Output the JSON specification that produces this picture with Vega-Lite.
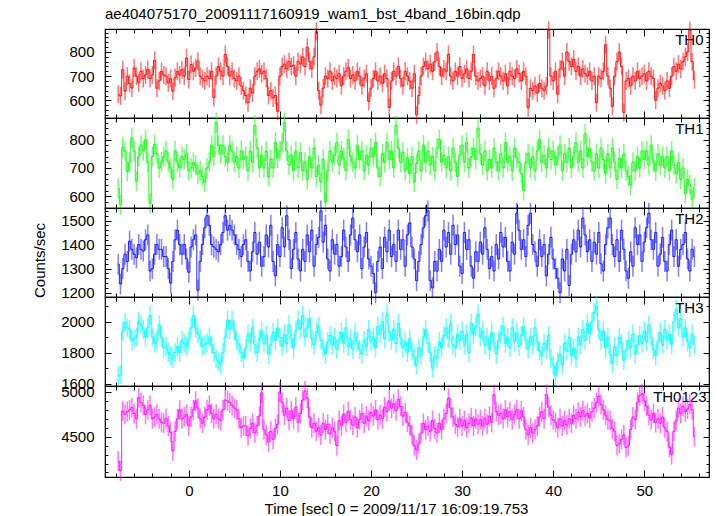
{
"$schema": "https://vega.github.io/schema/vega-lite/v6.json",
"padding": {"left": 32, "top": 6, "right": 6, "bottom": 2},
"background": "white",
"title": {"text": "ae404075170_20091117160919_wam1_bst_4band_16bin.qdp", "anchor": "start", "frame": "group", "fontSize": 15, "font": "Liberation Sans", "fontWeight": "normal", "color": "#000", "offset": -1},
"data": {"values": [
{"t":-7.75,"th0":625,"th1":628,"th2":1318,"th3":1650,"th0123":4229},
{"t":-7.5,"th0":618,"th1":570,"th2":1236,"th3":1660,"th0123":4117},
{"t":-7.25,"th0":727,"th1":772,"th2":1300,"th3":1940,"th0123":4788},
{"t":-7,"th0":638,"th1":760,"th2":1360,"th3":1994,"th0123":4750},
{"t":-6.75,"th0":700,"th1":688,"th2":1330,"th3":1960,"th0123":4780},
{"t":-6.5,"th0":670,"th1":720,"th2":1414,"th3":1950,"th0123":4800},
{"t":-6.25,"th0":651,"th1":806,"th2":1380,"th3":1875,"th0123":4825},
{"t":-6,"th0":734,"th1":760,"th2":1360,"th3":1890,"th0123":4760},
{"t":-5.75,"th0":700,"th1":653,"th2":1345,"th3":1900,"th0123":4700},
{"t":-5.5,"th0":672,"th1":740,"th2":1400,"th3":2000,"th0123":4936},
{"t":-5.25,"th0":720,"th1":780,"th2":1380,"th3":1980,"th0123":4880},
{"t":-5,"th0":690,"th1":760,"th2":1373,"th3":1950,"th0123":4850},
{"t":-4.75,"th0":705,"th1":800,"th2":1420,"th3":1900,"th0123":4750},
{"t":-4.5,"th0":728,"th1":720,"th2":1440,"th3":1960,"th0123":4800},
{"t":-4.25,"th0":690,"th1":576,"th2":1290,"th3":2040,"th0123":4850},
{"t":-4,"th0":705,"th1":740,"th2":1300,"th3":1900,"th0123":4700},
{"t":-3.75,"th0":765,"th1":783,"th2":1360,"th3":1860,"th0123":4720},
{"t":-3.5,"th0":650,"th1":750,"th2":1400,"th3":1880,"th0123":4750},
{"t":-3.25,"th0":680,"th1":700,"th2":1380,"th3":1980,"th0123":4700},
{"t":-3,"th0":720,"th1":720,"th2":1380,"th3":1900,"th0123":4660},
{"t":-2.75,"th0":705,"th1":740,"th2":1350,"th3":1830,"th0123":4650},
{"t":-2.5,"th0":700,"th1":760,"th2":1350,"th3":1840,"th0123":4700},
{"t":-2.25,"th0":672,"th1":720,"th2":1300,"th3":1800,"th0123":4620},
{"t":-2,"th0":690,"th1":700,"th2":1240,"th3":1780,"th0123":4550},
{"t":-1.75,"th0":638,"th1":660,"th2":1330,"th3":1760,"th0123":4340},
{"t":-1.5,"th0":693,"th1":760,"th2":1420,"th3":1800,"th0123":4560},
{"t":-1.25,"th0":720,"th1":720,"th2":1460,"th3":1840,"th0123":4700},
{"t":-1,"th0":705,"th1":700,"th2":1400,"th3":1800,"th0123":4800},
{"t":-0.75,"th0":727,"th1":740,"th2":1360,"th3":1880,"th0123":4700},
{"t":-0.5,"th0":700,"th1":730,"th2":1400,"th3":1860,"th0123":4720},
{"t":-0.25,"th0":775,"th1":750,"th2":1340,"th3":1840,"th0123":4750},
{"t":0,"th0":686,"th1":690,"th2":1285,"th3":1880,"th0123":4620},
{"t":0.25,"th0":748,"th1":700,"th2":1390,"th3":1960,"th0123":4720},
{"t":0.5,"th0":720,"th1":720,"th2":1420,"th3":2040,"th0123":4800},
{"t":0.75,"th0":734,"th1":710,"th2":1440,"th3":1960,"th0123":4900},
{"t":1,"th0":762,"th1":680,"th2":1210,"th3":1920,"th0123":4820},
{"t":1.25,"th0":700,"th1":690,"th2":1330,"th3":1890,"th0123":4700},
{"t":1.5,"th0":690,"th1":670,"th2":1400,"th3":1840,"th0123":4650},
{"t":1.75,"th0":680,"th1":650,"th2":1470,"th3":1850,"th0123":4720},
{"t":2,"th0":700,"th1":700,"th2":1520,"th3":1860,"th0123":4800},
{"t":2.25,"th0":690,"th1":720,"th2":1480,"th3":1900,"th0123":4850},
{"t":2.5,"th0":720,"th1":780,"th2":1400,"th3":1850,"th0123":4760},
{"t":2.75,"th0":612,"th1":740,"th2":1390,"th3":1800,"th0123":4700},
{"t":3,"th0":700,"th1":859,"th2":1380,"th3":1760,"th0123":4750},
{"t":3.25,"th0":740,"th1":780,"th2":1370,"th3":1740,"th0123":4700},
{"t":3.5,"th0":720,"th1":750,"th2":1400,"th3":1720,"th0123":4680},
{"t":3.75,"th0":700,"th1":780,"th2":1450,"th3":1800,"th0123":4800},
{"t":4,"th0":790,"th1":740,"th2":1520,"th3":1900,"th0123":4910},
{"t":4.25,"th0":740,"th1":720,"th2":1460,"th3":2010,"th0123":4900},
{"t":4.5,"th0":700,"th1":780,"th2":1480,"th3":1950,"th0123":4880},
{"t":4.75,"th0":720,"th1":760,"th2":1460,"th3":2010,"th0123":4850},
{"t":5,"th0":690,"th1":720,"th2":1440,"th3":1940,"th0123":4820},
{"t":5.25,"th0":680,"th1":740,"th2":1400,"th3":1880,"th0123":4800},
{"t":5.5,"th0":700,"th1":700,"th2":1380,"th3":1850,"th0123":4700},
{"t":5.75,"th0":660,"th1":760,"th2":1350,"th3":1800,"th0123":4600},
{"t":6,"th0":640,"th1":730,"th2":1400,"th3":1760,"th0123":4620},
{"t":6.25,"th0":620,"th1":740,"th2":1420,"th3":1830,"th0123":4620},
{"t":6.5,"th0":590,"th1":690,"th2":1330,"th3":1920,"th0123":4510},
{"t":6.75,"th0":650,"th1":760,"th2":1290,"th3":1870,"th0123":4590},
{"t":7,"th0":630,"th1":720,"th2":1370,"th3":1960,"th0123":4650},
{"t":7.25,"th0":700,"th1":850,"th2":1450,"th3":1850,"th0123":4540},
{"t":7.5,"th0":720,"th1":770,"th2":1360,"th3":1800,"th0123":4620},
{"t":7.75,"th0":730,"th1":700,"th2":1410,"th3":1890,"th0123":4730},
{"t":8,"th0":710,"th1":745,"th2":1310,"th3":1940,"th0123":4990},
{"t":8.25,"th0":720,"th1":700,"th2":1350,"th3":1860,"th0123":4580},
{"t":8.5,"th0":690,"th1":760,"th2":1440,"th3":1910,"th0123":4520},
{"t":8.75,"th0":620,"th1":670,"th2":1390,"th3":1790,"th0123":4440},
{"t":9,"th0":640,"th1":730,"th2":1480,"th3":1850,"th0123":4560},
{"t":9.25,"th0":610,"th1":700,"th2":1330,"th3":1930,"th0123":4470},
{"t":9.5,"th0":620,"th1":790,"th2":1270,"th3":1880,"th0123":4590},
{"t":9.75,"th0":555,"th1":735,"th2":1400,"th3":1960,"th0123":4640},
{"t":10,"th0":700,"th1":760,"th2":1350,"th3":1900,"th0123":5000},
{"t":10.25,"th0":740,"th1":790,"th2":1470,"th3":1840,"th0123":4880},
{"t":10.5,"th0":750,"th1":860,"th2":1390,"th3":1920,"th0123":4740},
{"t":10.75,"th0":730,"th1":760,"th2":1520,"th3":1860,"th0123":4820},
{"t":11,"th0":760,"th1":710,"th2":1420,"th3":1980,"th0123":4680},
{"t":11.25,"th0":740,"th1":745,"th2":1300,"th3":1890,"th0123":4790},
{"t":11.5,"th0":745,"th1":690,"th2":1380,"th3":1830,"th0123":4700},
{"t":11.75,"th0":700,"th1":760,"th2":1450,"th3":1940,"th0123":4830},
{"t":12,"th0":760,"th1":700,"th2":1340,"th3":2010,"th0123":4660},
{"t":12.25,"th0":750,"th1":755,"th2":1290,"th3":1950,"th0123":4760},
{"t":12.5,"th0":780,"th1":690,"th2":1380,"th3":2040,"th0123":4910},
{"t":12.75,"th0":740,"th1":720,"th2":1330,"th3":1900,"th0123":5010},
{"t":13,"th0":820,"th1":660,"th2":1440,"th3":1960,"th0123":4930},
{"t":13.25,"th0":760,"th1":740,"th2":1370,"th3":2020,"th0123":4720},
{"t":13.5,"th0":730,"th1":700,"th2":1460,"th3":1890,"th0123":4600},
{"t":13.75,"th0":780,"th1":770,"th2":1310,"th3":1850,"th0123":4650},
{"t":14,"th0":885,"th1":670,"th2":1400,"th3":1930,"th0123":4560},
{"t":14.25,"th0":640,"th1":710,"th2":1430,"th3":1970,"th0123":4600},
{"t":14.5,"th0":580,"th1":650,"th2":1540,"th3":1880,"th0123":4520},
{"t":14.75,"th0":650,"th1":730,"th2":1410,"th3":1830,"th0123":4650},
{"t":15,"th0":700,"th1":580,"th2":1480,"th3":1790,"th0123":4580},
{"t":15.25,"th0":690,"th1":690,"th2":1340,"th3":1870,"th0123":4640},
{"t":15.5,"th0":720,"th1":760,"th2":1290,"th3":1910,"th0123":4530},
{"t":15.75,"th0":680,"th1":720,"th2":1420,"th3":1850,"th0123":4600},
{"t":16,"th0":700,"th1":745,"th2":1360,"th3":1900,"th0123":4560},
{"t":16.25,"th0":690,"th1":790,"th2":1400,"th3":1820,"th0123":4400},
{"t":16.5,"th0":710,"th1":710,"th2":1310,"th3":1880,"th0123":4680},
{"t":16.75,"th0":660,"th1":760,"th2":1350,"th3":1930,"th0123":4620},
{"t":17,"th0":700,"th1":735,"th2":1460,"th3":1860,"th0123":4750},
{"t":17.25,"th0":720,"th1":690,"th2":1390,"th3":1960,"th0123":4660},
{"t":17.5,"th0":735,"th1":800,"th2":1330,"th3":1840,"th0123":4780},
{"t":17.75,"th0":690,"th1":740,"th2":1440,"th3":1890,"th0123":4690},
{"t":18,"th0":705,"th1":720,"th2":1510,"th3":1820,"th0123":4630},
{"t":18.25,"th0":680,"th1":700,"th2":1420,"th3":1930,"th0123":4720},
{"t":18.5,"th0":720,"th1":780,"th2":1370,"th3":1870,"th0123":4600},
{"t":18.75,"th0":700,"th1":730,"th2":1440,"th3":1820,"th0123":4690},
{"t":19,"th0":660,"th1":760,"th2":1300,"th3":1790,"th0123":4760},
{"t":19.25,"th0":690,"th1":690,"th2":1390,"th3":1880,"th0123":4650},
{"t":19.5,"th0":710,"th1":745,"th2":1450,"th3":1840,"th0123":4730},
{"t":19.75,"th0":596,"th1":710,"th2":1340,"th3":1950,"th0123":4680},
{"t":20,"th0":650,"th1":770,"th2":1310,"th3":1870,"th0123":4770},
{"t":20.25,"th0":690,"th1":740,"th2":1280,"th3":1900,"th0123":4730},
{"t":20.5,"th0":720,"th1":790,"th2":1200,"th3":1830,"th0123":4800},
{"t":20.75,"th0":680,"th1":700,"th2":1330,"th3":1970,"th0123":4690},
{"t":21,"th0":700,"th1":670,"th2":1390,"th3":1920,"th0123":4740},
{"t":21.25,"th0":670,"th1":750,"th2":1300,"th3":2000,"th0123":4700},
{"t":21.5,"th0":710,"th1":720,"th2":1430,"th3":1890,"th0123":4830},
{"t":21.75,"th0":690,"th1":790,"th2":1370,"th3":2050,"th0123":4780},
{"t":22,"th0":570,"th1":730,"th2":1460,"th3":1930,"th0123":4900},
{"t":22.25,"th0":680,"th1":760,"th2":1350,"th3":1880,"th0123":4820},
{"t":22.5,"th0":720,"th1":700,"th2":1400,"th3":1950,"th0123":4870},
{"t":22.75,"th0":700,"th1":850,"th2":1330,"th3":1860,"th0123":4790},
{"t":23,"th0":740,"th1":770,"th2":1460,"th3":1990,"th0123":4920},
{"t":23.25,"th0":690,"th1":720,"th2":1380,"th3":1900,"th0123":4840},
{"t":23.5,"th0":660,"th1":755,"th2":1420,"th3":1830,"th0123":4730},
{"t":23.75,"th0":720,"th1":690,"th2":1310,"th3":1870,"th0123":4770},
{"t":24,"th0":700,"th1":735,"th2":1440,"th3":1800,"th0123":4660},
{"t":24.25,"th0":680,"th1":680,"th2":1490,"th3":1890,"th0123":4620},
{"t":24.5,"th0":650,"th1":740,"th2":1390,"th3":1810,"th0123":4520},
{"t":24.75,"th0":710,"th1":650,"th2":1340,"th3":1770,"th0123":4400},
{"t":25,"th0":540,"th1":715,"th2":1250,"th3":1720,"th0123":4350},
{"t":25.25,"th0":620,"th1":760,"th2":1330,"th3":1830,"th0123":4420},
{"t":25.5,"th0":700,"th1":690,"th2":1400,"th3":1780,"th0123":4540},
{"t":25.75,"th0":740,"th1":780,"th2":1470,"th3":1900,"th0123":4650},
{"t":26,"th0":760,"th1":720,"th2":1520,"th3":1950,"th0123":4580},
{"t":26.25,"th0":730,"th1":760,"th2":1540,"th3":1860,"th0123":4620},
{"t":26.5,"th0":750,"th1":710,"th2":1250,"th3":1800,"th0123":4560},
{"t":26.75,"th0":720,"th1":740,"th2":1220,"th3":1700,"th0123":4680},
{"t":27,"th0":760,"th1":690,"th2":1330,"th3":1780,"th0123":4590},
{"t":27.25,"th0":800,"th1":770,"th2":1290,"th3":1760,"th0123":4540},
{"t":27.5,"th0":740,"th1":800,"th2":1380,"th3":1870,"th0123":4650},
{"t":27.75,"th0":700,"th1":720,"th2":1330,"th3":1830,"th0123":4580},
{"t":28,"th0":730,"th1":745,"th2":1460,"th3":1910,"th0123":4700},
{"t":28.25,"th0":720,"th1":700,"th2":1390,"th3":1960,"th0123":4760},
{"t":28.5,"th0":790,"th1":740,"th2":1450,"th3":1890,"th0123":4930},
{"t":28.75,"th0":700,"th1":690,"th2":1360,"th3":1990,"th0123":4820},
{"t":29,"th0":680,"th1":770,"th2":1480,"th3":1850,"th0123":4720},
{"t":29.25,"th0":720,"th1":720,"th2":1400,"th3":1830,"th0123":4640},
{"t":29.5,"th0":700,"th1":670,"th2":1440,"th3":1920,"th0123":4610},
{"t":29.75,"th0":740,"th1":745,"th2":1310,"th3":1880,"th0123":4700},
{"t":30,"th0":690,"th1":780,"th2":1280,"th3":1940,"th0123":4620},
{"t":30.25,"th0":710,"th1":720,"th2":1450,"th3":1850,"th0123":4680},
{"t":30.5,"th0":730,"th1":790,"th2":1380,"th3":1920,"th0123":4600},
{"t":30.75,"th0":690,"th1":700,"th2":1420,"th3":1800,"th0123":4650},
{"t":31,"th0":720,"th1":740,"th2":1310,"th3":1990,"th0123":4710},
{"t":31.25,"th0":790,"th1":770,"th2":1260,"th3":1920,"th0123":4620},
{"t":31.5,"th0":700,"th1":730,"th2":1370,"th3":1970,"th0123":4700},
{"t":31.75,"th0":680,"th1":840,"th2":1330,"th3":2050,"th0123":4640},
{"t":32,"th0":690,"th1":750,"th2":1410,"th3":1900,"th0123":4690},
{"t":32.25,"th0":700,"th1":710,"th2":1360,"th3":1940,"th0123":4620},
{"t":32.5,"th0":660,"th1":760,"th2":1470,"th3":1850,"th0123":4700},
{"t":32.75,"th0":720,"th1":690,"th2":1380,"th3":1900,"th0123":4640},
{"t":33,"th0":680,"th1":730,"th2":1300,"th3":1820,"th0123":4730},
{"t":33.25,"th0":700,"th1":700,"th2":1350,"th3":1930,"th0123":4660},
{"t":33.5,"th0":650,"th1":770,"th2":1290,"th3":1870,"th0123":4970},
{"t":33.75,"th0":690,"th1":720,"th2":1400,"th3":1790,"th0123":4780},
{"t":34,"th0":720,"th1":690,"th2":1340,"th3":1880,"th0123":4740},
{"t":34.25,"th0":700,"th1":750,"th2":1450,"th3":1920,"th0123":4760},
{"t":34.5,"th0":680,"th1":700,"th2":1390,"th3":1970,"th0123":4700},
{"t":34.75,"th0":710,"th1":790,"th2":1430,"th3":1860,"th0123":4800},
{"t":35,"th0":660,"th1":720,"th2":1330,"th3":1900,"th0123":4720},
{"t":35.25,"th0":720,"th1":740,"th2":1290,"th3":1830,"th0123":4780},
{"t":35.5,"th0":700,"th1":690,"th2":1410,"th3":1960,"th0123":4690},
{"t":35.75,"th0":690,"th1":770,"th2":1360,"th3":1870,"th0123":4750},
{"t":36,"th0":730,"th1":735,"th2":1530,"th3":1930,"th0123":4800},
{"t":36.25,"th0":710,"th1":720,"th2":1460,"th3":1840,"th0123":4700},
{"t":36.5,"th0":680,"th1":680,"th2":1380,"th3":1910,"th0123":4790},
{"t":36.75,"th0":720,"th1":620,"th2":1420,"th3":1970,"th0123":4720},
{"t":37,"th0":700,"th1":720,"th2":1350,"th3":1880,"th0123":4580},
{"t":37.25,"th0":570,"th1":750,"th2":1480,"th3":1820,"th0123":4520},
{"t":37.5,"th0":650,"th1":700,"th2":1530,"th3":1900,"th0123":4600},
{"t":37.75,"th0":640,"th1":740,"th2":1400,"th3":1850,"th0123":4540},
{"t":38,"th0":660,"th1":690,"th2":1370,"th3":1960,"th0123":4580},
{"t":38.25,"th0":630,"th1":760,"th2":1310,"th3":1870,"th0123":4620},
{"t":38.5,"th0":670,"th1":800,"th2":1420,"th3":1810,"th0123":4720},
{"t":38.75,"th0":650,"th1":720,"th2":1350,"th3":1780,"th0123":4780},
{"t":39,"th0":640,"th1":745,"th2":1400,"th3":1860,"th0123":4700},
{"t":39.25,"th0":660,"th1":700,"th2":1270,"th3":1820,"th0123":4970},
{"t":39.5,"th0":890,"th1":770,"th2":1360,"th3":1910,"th0123":4830},
{"t":39.75,"th0":700,"th1":730,"th2":1430,"th3":1760,"th0123":4740},
{"t":40,"th0":680,"th1":760,"th2":1340,"th3":1720,"th0123":4690},
{"t":40.25,"th0":720,"th1":710,"th2":1300,"th3":1650,"th0123":4660},
{"t":40.5,"th0":625,"th1":740,"th2":1260,"th3":1740,"th0123":4600},
{"t":40.75,"th0":730,"th1":780,"th2":1200,"th3":1790,"th0123":4700},
{"t":41,"th0":760,"th1":690,"th2":1340,"th3":1720,"th0123":4620},
{"t":41.25,"th0":700,"th1":750,"th2":1290,"th3":1860,"th0123":4680},
{"t":41.5,"th0":800,"th1":720,"th2":1380,"th3":1810,"th0123":4630},
{"t":41.75,"th0":760,"th1":770,"th2":1230,"th3":1900,"th0123":4700},
{"t":42,"th0":740,"th1":700,"th2":1360,"th3":1780,"th0123":4650},
{"t":42.25,"th0":770,"th1":740,"th2":1420,"th3":1830,"th0123":4740},
{"t":42.5,"th0":720,"th1":790,"th2":1370,"th3":1760,"th0123":4700},
{"t":42.75,"th0":740,"th1":720,"th2":1460,"th3":1900,"th0123":4770},
{"t":43,"th0":700,"th1":760,"th2":1390,"th3":1850,"th0123":4720},
{"t":43.25,"th0":730,"th1":700,"th2":1510,"th3":1950,"th0123":4790},
{"t":43.5,"th0":710,"th1":820,"th2":1440,"th3":1880,"th0123":4730},
{"t":43.75,"th0":700,"th1":740,"th2":1370,"th3":1990,"th0123":4760},
{"t":44,"th0":720,"th1":770,"th2":1420,"th3":1920,"th0123":4710},
{"t":44.25,"th0":680,"th1":720,"th2":1330,"th3":2000,"th0123":4780},
{"t":44.5,"th0":700,"th1":690,"th2":1410,"th3":2060,"th0123":4820},
{"t":44.75,"th0":590,"th1":750,"th2":1360,"th3":2100,"th0123":4880},
{"t":45,"th0":700,"th1":700,"th2":1450,"th3":1950,"th0123":4950},
{"t":45.25,"th0":690,"th1":770,"th2":1320,"th3":1880,"th0123":4860},
{"t":45.5,"th0":720,"th1":730,"th2":1290,"th3":1940,"th0123":4800},
{"t":45.75,"th0":830,"th1":680,"th2":1400,"th3":1830,"th0123":4740},
{"t":46,"th0":700,"th1":750,"th2":1470,"th3":1900,"th0123":4690},
{"t":46.25,"th0":650,"th1":700,"th2":1510,"th3":1790,"th0123":4680},
{"t":46.5,"th0":575,"th1":770,"th2":1400,"th3":1730,"th0123":4590},
{"t":46.75,"th0":700,"th1":720,"th2":1350,"th3":1840,"th0123":4560},
{"t":47,"th0":760,"th1":660,"th2":1420,"th3":1780,"th0123":4400},
{"t":47.25,"th0":800,"th1":735,"th2":1330,"th3":1900,"th0123":4420},
{"t":47.5,"th0":740,"th1":700,"th2":1460,"th3":1860,"th0123":4470},
{"t":47.75,"th0":550,"th1":750,"th2":1380,"th3":1750,"th0123":4520},
{"t":48,"th0":680,"th1":690,"th2":1290,"th3":1820,"th0123":4380},
{"t":48.25,"th0":690,"th1":670,"th2":1260,"th3":1880,"th0123":4400},
{"t":48.5,"th0":660,"th1":640,"th2":1370,"th3":1830,"th0123":4580},
{"t":48.75,"th0":700,"th1":720,"th2":1310,"th3":1920,"th0123":4720},
{"t":49,"th0":680,"th1":690,"th2":1470,"th3":1790,"th0123":4690},
{"t":49.25,"th0":720,"th1":740,"th2":1400,"th3":1850,"th0123":4880},
{"t":49.5,"th0":690,"th1":700,"th2":1440,"th3":1910,"th0123":4960},
{"t":49.75,"th0":700,"th1":760,"th2":1330,"th3":1860,"th0123":4980},
{"t":50,"th0":710,"th1":730,"th2":1410,"th3":1940,"th0123":4900},
{"t":50.25,"th0":680,"th1":760,"th2":1470,"th3":1870,"th0123":4840},
{"t":50.5,"th0":720,"th1":710,"th2":1530,"th3":1980,"th0123":4740},
{"t":50.75,"th0":700,"th1":780,"th2":1420,"th3":1900,"th0123":4690},
{"t":51,"th0":690,"th1":720,"th2":1380,"th3":1820,"th0123":4760},
{"t":51.25,"th0":600,"th1":690,"th2":1450,"th3":1780,"th0123":4660},
{"t":51.5,"th0":650,"th1":750,"th2":1310,"th3":1870,"th0123":4700},
{"t":51.75,"th0":670,"th1":710,"th2":1360,"th3":1930,"th0123":4650},
{"t":52,"th0":660,"th1":740,"th2":1430,"th3":1850,"th0123":4720},
{"t":52.25,"th0":640,"th1":700,"th2":1330,"th3":1950,"th0123":4600},
{"t":52.5,"th0":680,"th1":740,"th2":1290,"th3":1880,"th0123":4560},
{"t":52.75,"th0":650,"th1":690,"th2":1400,"th3":1920,"th0123":4380},
{"t":53,"th0":700,"th1":760,"th2":1460,"th3":1850,"th0123":4300},
{"t":53.25,"th0":740,"th1":710,"th2":1350,"th3":2000,"th0123":4560},
{"t":53.5,"th0":720,"th1":680,"th2":1420,"th3":2080,"th0123":4680},
{"t":53.75,"th0":750,"th1":720,"th2":1310,"th3":1960,"th0123":4820},
{"t":54,"th0":730,"th1":660,"th2":1380,"th3":2020,"th0123":4760},
{"t":54.25,"th0":760,"th1":700,"th2":1400,"th3":1900,"th0123":4840},
{"t":54.5,"th0":780,"th1":610,"th2":1450,"th3":1960,"th0123":4780},
{"t":54.75,"th0":800,"th1":660,"th2":1340,"th3":1870,"th0123":4810},
{"t":55,"th0":890,"th1":640,"th2":1290,"th3":1830,"th0123":4860},
{"t":55.25,"th0":760,"th1":590,"th2":1380,"th3":1920,"th0123":4800},
{"t":55.5,"th0":685,"th1":630,"th2":1350,"th3":1850,"th0123":4500}
]},
"spacing": 0,
"bounds": "flush",
"vconcat": [
{
"width": 604, "height": 89,
"layer": [
{"mark": {"type": "tick", "orient": "vertical", "size": 18, "thickness": 1.5, "color": "#ff0000", "opacity": 0.55},
 "encoding": {
  "x": {"field": "t", "type": "quantitative", "scale": {"domain": [-9.2, 57.1], "nice": false, "zero": false}, "axis": null},
  "y": {"field": "th0", "type": "quantitative", "scale": {"domain": [527, 895], "nice": false, "zero": false}, "axis": {"orient": "left", "values": [600, 700, 800], "format": "d", "ticks": false, "domain": false, "grid": false, "labelPadding": 11, "labelFontSize": 15, "labelFont": "Liberation Sans", "labelColor": "#000", "labelFlush": false, "title": null}}}},
{"mark": {"type": "line", "interpolate": "step", "strokeWidth": 1, "color": "#ff0000", "opacity": 0.9},
 "encoding": {
  "x": {"field": "t", "type": "quantitative", "axis": {"orient": "bottom", "values": [-8,-6,-4,-2,0,2,4,6,8,10,12,14,16,18,20,22,24,26,28,30,32,34,36,38,40,42,44,46,48,50,52,54,56], "labels": false, "domain": false, "grid": false, "tickColor": "#000", "tickSize": {"condition": {"test": "datum.value % 10 === 0", "value": -7}, "value": -4}, "title": null}},
  "y": {"field": "th0", "type": "quantitative", "axis": {"orient": "left", "values": [540,560,580,600,620,640,660,680,700,720,740,760,780,800,820,840,860,880], "labels": false, "domain": false, "grid": false, "tickColor": "#000", "tickSize": {"condition": {"test": "datum.value % 100 === 0", "value": -6}, "value": -3}, "title": null}}}},
{"mark": {"type": "line", "interpolate": "step", "strokeWidth": 1, "opacity": 0},
 "encoding": {
  "x": {"field": "t", "type": "quantitative", "axis": {"orient": "top", "values": [-8,-6,-4,-2,0,2,4,6,8,10,12,14,16,18,20,22,24,26,28,30,32,34,36,38,40,42,44,46,48,50,52,54,56], "labels": false, "domain": false, "grid": false, "tickColor": "#000", "tickSize": {"condition": {"test": "datum.value % 10 === 0", "value": -7}, "value": -4}, "title": null}},
  "y": {"field": "th0", "type": "quantitative", "axis": {"orient": "right", "values": [540,560,580,600,620,640,660,680,700,720,740,760,780,800,820,840,860,880], "labels": false, "domain": false, "grid": false, "tickColor": "#000", "tickSize": {"condition": {"test": "datum.value % 100 === 0", "value": -6}, "value": -3}, "title": "TH0", "titleAngle": 0, "titleAlign": "right", "titleBaseline": "alphabetic", "titleX": -6, "titleY": 15, "titleFontSize": 15, "titleFont": "Liberation Sans", "titleFontWeight": "normal", "titleColor": "#000"}}}}
],
"resolve": {"axis": {"x": "independent", "y": "independent"}}
},
{
"width": 604, "height": 90,
"layer": [
{"mark": {"type": "tick", "orient": "vertical", "size": 20, "thickness": 1.5, "color": "#00ff00", "opacity": 0.55},
 "encoding": {
  "x": {"field": "t", "type": "quantitative", "scale": {"domain": [-9.2, 57.1], "nice": false, "zero": false}, "axis": null},
  "y": {"field": "th1", "type": "quantitative", "scale": {"domain": [559, 876], "nice": false, "zero": false}, "axis": {"orient": "left", "values": [600, 700, 800], "format": "d", "ticks": false, "domain": false, "grid": false, "labelPadding": 11, "labelFontSize": 15, "labelFont": "Liberation Sans", "labelColor": "#000", "labelFlush": false, "title": null}}}},
{"mark": {"type": "line", "interpolate": "step", "strokeWidth": 1, "color": "#00ff00", "opacity": 0.9},
 "encoding": {
  "x": {"field": "t", "type": "quantitative", "axis": {"orient": "bottom", "values": [-8,-6,-4,-2,0,2,4,6,8,10,12,14,16,18,20,22,24,26,28,30,32,34,36,38,40,42,44,46,48,50,52,54,56], "labels": false, "domain": false, "grid": false, "tickColor": "#000", "tickSize": {"condition": {"test": "datum.value % 10 === 0", "value": -7}, "value": -4}, "title": null}},
  "y": {"field": "th1", "type": "quantitative", "axis": {"orient": "left", "values": [560,580,600,620,640,660,680,700,720,740,760,780,800,820,840,860], "labels": false, "domain": false, "grid": false, "tickColor": "#000", "tickSize": {"condition": {"test": "datum.value % 100 === 0", "value": -6}, "value": -3}, "title": null}}}},
{"mark": {"type": "line", "interpolate": "step", "strokeWidth": 1, "opacity": 0},
 "encoding": {
  "x": {"field": "t", "type": "quantitative", "axis": {"orient": "top", "values": [-8,-6,-4,-2,0,2,4,6,8,10,12,14,16,18,20,22,24,26,28,30,32,34,36,38,40,42,44,46,48,50,52,54,56], "labels": false, "domain": false, "grid": false, "tickColor": "#000", "tickSize": {"condition": {"test": "datum.value % 10 === 0", "value": -7}, "value": -4}, "title": null}},
  "y": {"field": "th1", "type": "quantitative", "axis": {"orient": "right", "values": [560,580,600,620,640,660,680,700,720,740,760,780,800,820,840,860], "labels": false, "domain": false, "grid": false, "tickColor": "#000", "tickSize": {"condition": {"test": "datum.value % 100 === 0", "value": -6}, "value": -3}, "title": "TH1", "titleAngle": 0, "titleAlign": "right", "titleBaseline": "alphabetic", "titleX": -6, "titleY": 15, "titleFontSize": 15, "titleFont": "Liberation Sans", "titleFontWeight": "normal", "titleColor": "#000"}}}}
],
"resolve": {"axis": {"x": "independent", "y": "independent"}}
},
{
"width": 604, "height": 89,
"layer": [
{"mark": {"type": "tick", "orient": "vertical", "size": 21, "thickness": 1.5, "color": "#0000ff", "opacity": 0.5},
 "encoding": {
  "x": {"field": "t", "type": "quantitative", "scale": {"domain": [-9.2, 57.1], "nice": false, "zero": false}, "axis": null},
  "y": {"field": "th2", "type": "quantitative", "scale": {"domain": [1182, 1552], "nice": false, "zero": false}, "axis": {"orient": "left", "values": [1200, 1300, 1400, 1500], "format": "d", "ticks": false, "domain": false, "grid": false, "labelPadding": 11, "labelFontSize": 15, "labelFont": "Liberation Sans", "labelColor": "#000", "labelFlush": false, "title": "Counts/sec", "titleFontSize": 15, "titleFont": "Liberation Sans", "titleFontWeight": "normal", "titleColor": "#000", "titlePadding": 13, "titleY": 52}}}},
{"mark": {"type": "line", "interpolate": "step", "strokeWidth": 1, "color": "#0000ff", "opacity": 0.85},
 "encoding": {
  "x": {"field": "t", "type": "quantitative", "axis": {"orient": "bottom", "values": [-8,-6,-4,-2,0,2,4,6,8,10,12,14,16,18,20,22,24,26,28,30,32,34,36,38,40,42,44,46,48,50,52,54,56], "labels": false, "domain": false, "grid": false, "tickColor": "#000", "tickSize": {"condition": {"test": "datum.value % 10 === 0", "value": -7}, "value": -4}, "title": null}},
  "y": {"field": "th2", "type": "quantitative", "axis": {"orient": "left", "values": [1200,1220,1240,1260,1280,1300,1320,1340,1360,1380,1400,1420,1440,1460,1480,1500,1520,1540], "labels": false, "domain": false, "grid": false, "tickColor": "#000", "tickSize": {"condition": {"test": "datum.value % 100 === 0", "value": -6}, "value": -3}, "title": null}}}},
{"mark": {"type": "line", "interpolate": "step", "strokeWidth": 1, "opacity": 0},
 "encoding": {
  "x": {"field": "t", "type": "quantitative", "axis": {"orient": "top", "values": [-8,-6,-4,-2,0,2,4,6,8,10,12,14,16,18,20,22,24,26,28,30,32,34,36,38,40,42,44,46,48,50,52,54,56], "labels": false, "domain": false, "grid": false, "tickColor": "#000", "tickSize": {"condition": {"test": "datum.value % 10 === 0", "value": -7}, "value": -4}, "title": null}},
  "y": {"field": "th2", "type": "quantitative", "axis": {"orient": "right", "values": [1200,1220,1240,1260,1280,1300,1320,1340,1360,1380,1400,1420,1440,1460,1480,1500,1520,1540], "labels": false, "domain": false, "grid": false, "tickColor": "#000", "tickSize": {"condition": {"test": "datum.value % 100 === 0", "value": -6}, "value": -3}, "title": "TH2", "titleAngle": 0, "titleAlign": "right", "titleBaseline": "alphabetic", "titleX": -6, "titleY": 15, "titleFontSize": 15, "titleFont": "Liberation Sans", "titleFontWeight": "normal", "titleColor": "#000"}}}}
],
"resolve": {"axis": {"x": "independent", "y": "independent"}}
},
{
"width": 604, "height": 89,
"layer": [
{"mark": {"type": "tick", "orient": "vertical", "size": 19, "thickness": 1.5, "color": "#00ffff", "opacity": 0.6},
 "encoding": {
  "x": {"field": "t", "type": "quantitative", "scale": {"domain": [-9.2, 57.1], "nice": false, "zero": false}, "axis": null},
  "y": {"field": "th3", "type": "quantitative", "scale": {"domain": [1585, 2159], "nice": false, "zero": false}, "axis": {"orient": "left", "values": [1600, 1800, 2000], "format": "d", "ticks": false, "domain": false, "grid": false, "labelPadding": 11, "labelFontSize": 15, "labelFont": "Liberation Sans", "labelColor": "#000", "labelFlush": false, "title": null}}}},
{"mark": {"type": "line", "interpolate": "step", "strokeWidth": 1, "color": "#00ffff", "opacity": 0.95},
 "encoding": {
  "x": {"field": "t", "type": "quantitative", "axis": {"orient": "bottom", "values": [-8,-6,-4,-2,0,2,4,6,8,10,12,14,16,18,20,22,24,26,28,30,32,34,36,38,40,42,44,46,48,50,52,54,56], "labels": false, "domain": false, "grid": false, "tickColor": "#000", "tickSize": {"condition": {"test": "datum.value % 10 === 0", "value": -7}, "value": -4}, "title": null}},
  "y": {"field": "th3", "type": "quantitative", "axis": {"orient": "left", "values": [1600,1700,1800,1900,2000,2100], "labels": false, "domain": false, "grid": false, "tickColor": "#000", "tickSize": {"condition": {"test": "datum.value % 200 === 0", "value": -6}, "value": -3}, "title": null}}}},
{"mark": {"type": "line", "interpolate": "step", "strokeWidth": 1, "opacity": 0},
 "encoding": {
  "x": {"field": "t", "type": "quantitative", "axis": {"orient": "top", "values": [-8,-6,-4,-2,0,2,4,6,8,10,12,14,16,18,20,22,24,26,28,30,32,34,36,38,40,42,44,46,48,50,52,54,56], "labels": false, "domain": false, "grid": false, "tickColor": "#000", "tickSize": {"condition": {"test": "datum.value % 10 === 0", "value": -7}, "value": -4}, "title": null}},
  "y": {"field": "th3", "type": "quantitative", "axis": {"orient": "right", "values": [1600,1700,1800,1900,2000,2100], "labels": false, "domain": false, "grid": false, "tickColor": "#000", "tickSize": {"condition": {"test": "datum.value % 200 === 0", "value": -6}, "value": -3}, "title": "TH3", "titleAngle": 0, "titleAlign": "right", "titleBaseline": "alphabetic", "titleX": -6, "titleY": 15, "titleFontSize": 15, "titleFont": "Liberation Sans", "titleFontWeight": "normal", "titleColor": "#000"}}}}
],
"resolve": {"axis": {"x": "independent", "y": "independent"}}
},
{
"width": 604, "height": 91,
"layer": [
{"mark": {"type": "tick", "orient": "vertical", "size": 20, "thickness": 1.5, "color": "#ff00ff", "opacity": 0.55},
 "encoding": {
  "x": {"field": "t", "type": "quantitative", "scale": {"domain": [-9.2, 57.1], "nice": false, "zero": false}, "axis": {"orient": "bottom", "values": [0, 10, 20, 30, 40, 50], "ticks": false, "domain": false, "grid": false, "labelPadding": 6, "labelFontSize": 15, "labelFont": "Liberation Sans", "labelColor": "#000", "labelFlush": false, "title": "Time [sec] 0 = 2009/11/17 16:09:19.753", "titleFontSize": 15, "titleFont": "Liberation Sans", "titleFontWeight": "normal", "titleColor": "#000", "titlePadding": 3, "titleX": 291}},
  "y": {"field": "th0123", "type": "quantitative", "scale": {"domain": [4049, 5067], "nice": false, "zero": false}, "axis": {"orient": "left", "values": [4500, 5000], "format": "d", "ticks": false, "domain": false, "grid": false, "labelPadding": 11, "labelFontSize": 15, "labelFont": "Liberation Sans", "labelColor": "#000", "labelFlush": false, "title": null}}}},
{"mark": {"type": "line", "interpolate": "step", "strokeWidth": 1, "color": "#ff00ff", "opacity": 0.9},
 "encoding": {
  "x": {"field": "t", "type": "quantitative", "axis": {"orient": "bottom", "values": [-8,-6,-4,-2,0,2,4,6,8,10,12,14,16,18,20,22,24,26,28,30,32,34,36,38,40,42,44,46,48,50,52,54,56], "labels": false, "domain": false, "grid": false, "tickColor": "#000", "tickSize": {"condition": {"test": "datum.value % 10 === 0", "value": -7}, "value": -4}, "title": null}},
  "y": {"field": "th0123", "type": "quantitative", "axis": {"orient": "left", "values": [4100,4200,4300,4400,4500,4600,4700,4800,4900,5000], "labels": false, "domain": false, "grid": false, "tickColor": "#000", "tickSize": {"condition": {"test": "datum.value % 500 === 0", "value": -6}, "value": -3}, "title": null}}}},
{"mark": {"type": "line", "interpolate": "step", "strokeWidth": 1, "opacity": 0},
 "encoding": {
  "x": {"field": "t", "type": "quantitative", "axis": {"orient": "top", "values": [-8,-6,-4,-2,0,2,4,6,8,10,12,14,16,18,20,22,24,26,28,30,32,34,36,38,40,42,44,46,48,50,52,54,56], "labels": false, "domain": false, "grid": false, "tickColor": "#000", "tickSize": {"condition": {"test": "datum.value % 10 === 0", "value": -7}, "value": -4}, "title": null}},
  "y": {"field": "th0123", "type": "quantitative", "axis": {"orient": "right", "values": [4100,4200,4300,4400,4500,4600,4700,4800,4900,5000], "labels": false, "domain": false, "grid": false, "tickColor": "#000", "tickSize": {"condition": {"test": "datum.value % 500 === 0", "value": -6}, "value": -3}, "title": "TH0123", "titleAngle": 0, "titleAlign": "right", "titleBaseline": "alphabetic", "titleX": -3, "titleY": 15, "titleFontSize": 15, "titleFont": "Liberation Sans", "titleFontWeight": "normal", "titleColor": "#000"}}}}
],
"resolve": {"axis": {"x": "independent", "y": "independent"}}
}
],
"config": {"view": {"stroke": "#000", "strokeWidth": 1.2}}
}
